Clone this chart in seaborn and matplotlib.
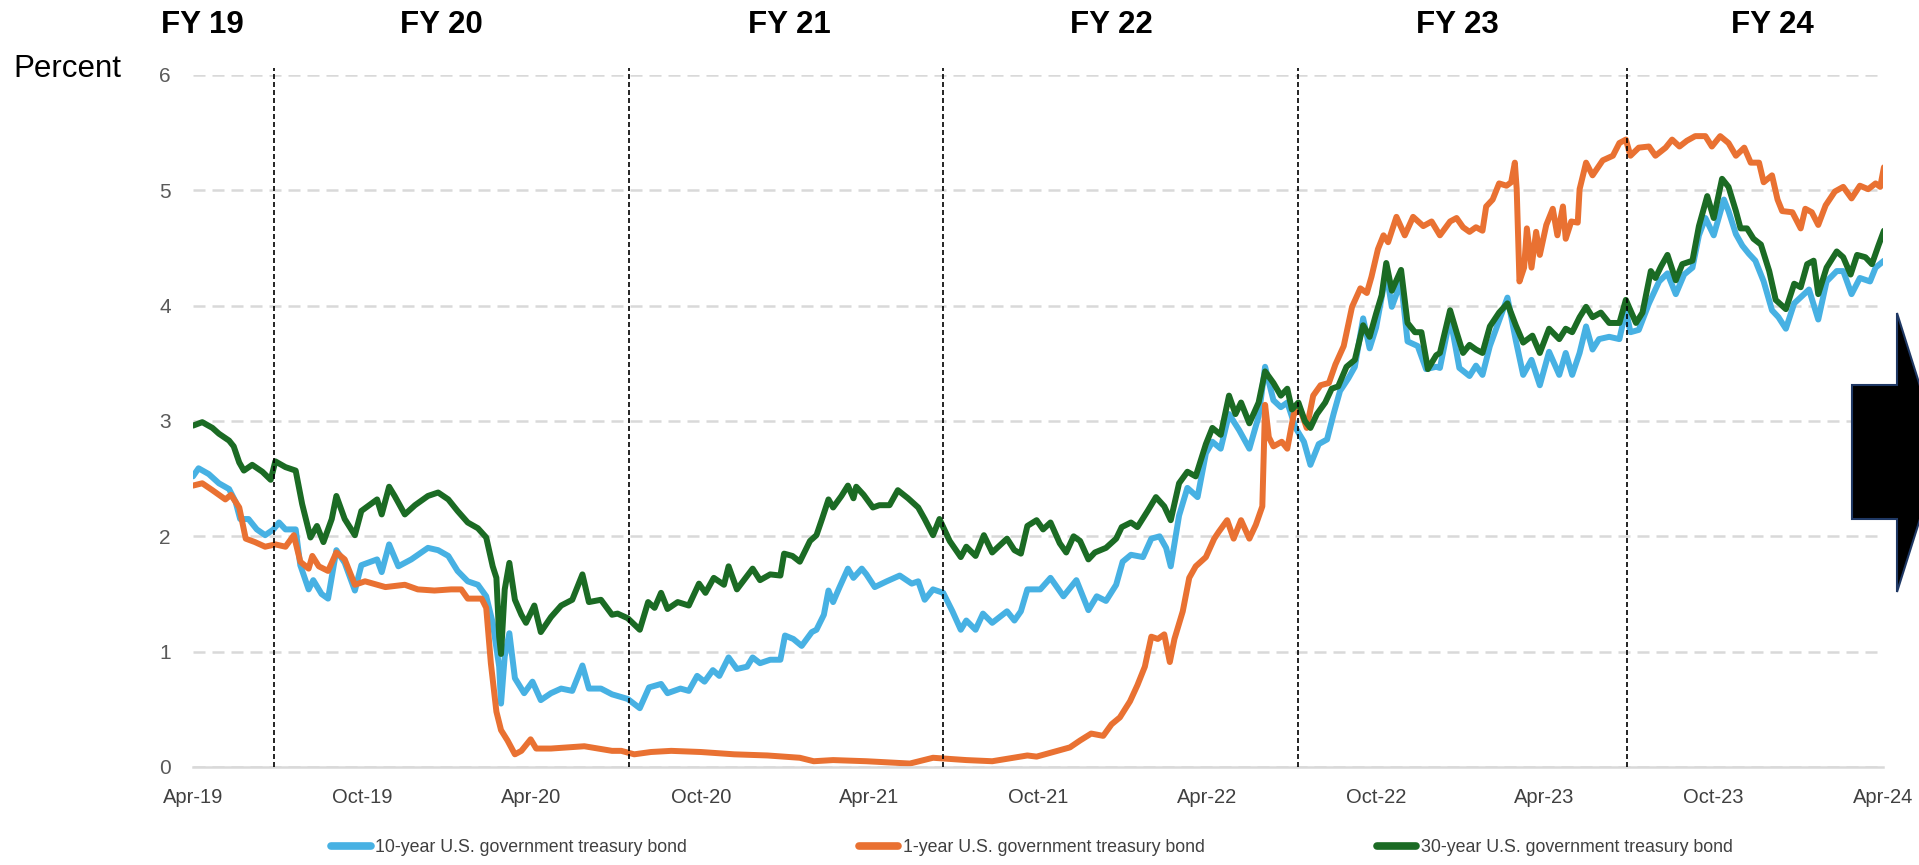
import pandas as pd
import matplotlib.pyplot as plt
import matplotlib.dates as mdates
from matplotlib.patches import Polygon
from matplotlib.lines import Line2D
import seaborn as sns

sns.set_style('white')
plt.rcParams['font.family'] = ['Liberation Sans', 'DejaVu Sans']

START = pd.Timestamp('2019-04-01')
END = pd.Timestamp('2024-04-01')

# x values are days after 1 Apr 2019, y values are percent
days_10y = [0, 6, 17, 28, 39, 46, 51, 60, 69, 78, 87, 93, 100, 111, 116, 125, 130, 139, 146, 155,
            164, 175, 182, 199, 204, 212, 222, 236, 254, 265, 276, 286, 297, 308, 317, 324, 331, 333, 337, 342,
            348, 358, 367, 376, 387, 398, 410, 421, 428, 441, 453,
            470, 483, 493, 506, 513, 527, 536, 545, 553, 562, 569, 579, 588, 599, 605, 613, 624, 635, 640, 649,
            658, 669, 674, 682, 687, 692, 699, 708, 714, 723, 728, 737, 750, 764, 777, 784, 791, 800, 811, 821,
            830, 836, 846, 854, 864, 880, 888, 895, 902,
            916, 927, 941, 955, 968, 977, 987, 998, 1005, 1014, 1027, 1036, 1045, 1052, 1057, 1066, 1075, 1086, 1095, 1102,
            1111, 1120, 1131, 1142, 1152, 1159, 1168, 1176, 1183, 1192, 1201, 1208, 1217, 1226, 1233, 1240, 1249, 1256, 1265, 1272,
            1279, 1290, 1296, 1306, 1313, 1324, 1333, 1344,
            1348, 1359, 1369, 1380, 1387, 1394, 1402, 1412, 1421, 1430, 1438, 1447, 1456, 1466, 1477, 1484, 1491, 1499, 1506, 1513,
            1520, 1531, 1542, 1549, 1554, 1563, 1574, 1585, 1594, 1603, 1612, 1621, 1628, 1635, 1644, 1655, 1660, 1668, 1675, 1682,
            1689, 1698, 1707, 1714, 1722, 1731, 1739, 1747, 1757, 1766, 1777, 1784, 1793, 1802, 1813, 1819, 1828]
pct_10y = [2.52, 2.59, 2.54, 2.46, 2.41, 2.30, 2.15, 2.15, 2.06, 2.01, 2.06, 2.12, 2.06, 2.06, 1.75, 1.54, 1.62, 1.50, 1.46, 1.88,
           1.77, 1.53, 1.75, 1.80, 1.69, 1.93, 1.74, 1.80, 1.90, 1.88, 1.83, 1.70, 1.61, 1.58, 1.48, 1.25, 0.87, 0.55, 0.96, 1.16,
           0.77, 0.64, 0.74, 0.58, 0.64, 0.68, 0.66, 0.88, 0.68, 0.68, 0.63,
           0.59, 0.51, 0.69, 0.72, 0.64, 0.68, 0.66, 0.79, 0.74, 0.84, 0.79, 0.95, 0.85, 0.87, 0.95, 0.90, 0.93, 0.93, 1.14, 1.11,
           1.05, 1.17, 1.19, 1.32, 1.53, 1.43, 1.56, 1.72, 1.64, 1.72, 1.67, 1.56, 1.61, 1.66, 1.59, 1.61, 1.45, 1.54, 1.51, 1.35,
           1.19, 1.27, 1.19, 1.33, 1.25, 1.35, 1.27, 1.35, 1.54,
           1.54, 1.64, 1.48, 1.62, 1.36, 1.48, 1.44, 1.58, 1.78, 1.84, 1.82, 1.98, 2.00, 1.90, 1.74, 2.18, 2.42, 2.34, 2.72, 2.82,
           2.76, 3.06, 2.92, 2.76, 3.04, 3.47, 3.18, 3.12, 3.16, 2.94, 2.82, 2.62, 2.80, 2.84, 3.06, 3.26, 3.37, 3.47, 3.89, 3.63,
           3.81, 4.29, 3.99, 4.21, 3.69, 3.65, 3.45, 3.47,
           3.46, 3.90, 3.46, 3.39, 3.48, 3.40, 3.65, 3.87, 4.07, 3.70, 3.40, 3.53, 3.31, 3.60, 3.40, 3.59, 3.40, 3.59, 3.82, 3.62,
           3.71, 3.73, 3.71, 3.96, 3.77, 3.79, 4.02, 4.21, 4.28, 4.10, 4.27, 4.33, 4.61, 4.76, 4.61, 4.92, 4.82, 4.62, 4.52, 4.45,
           4.39, 4.21, 3.96, 3.90, 3.80, 4.02, 4.08, 4.14, 3.88, 4.21, 4.30, 4.30, 4.10, 4.24, 4.21, 4.33, 4.39]

days_1y = [0, 10, 21, 35, 41, 50, 57, 67, 78, 89, 100, 109, 116, 125, 129, 136, 146, 155, 164, 175,
           186, 208, 229, 243, 261, 279, 290, 297, 312, 317, 322, 328, 333, 340, 348, 355, 365, 371, 387, 423, 453,
           463, 477, 495, 517, 549, 585, 621, 656, 671, 692, 728, 775, 800, 836, 864, 902,
           912, 930, 948, 959, 971, 984, 993, 1002, 1013, 1021, 1029, 1036, 1043, 1050, 1056, 1061, 1070, 1077, 1084, 1095,
           1104, 1109, 1118, 1125, 1133, 1142, 1149, 1156, 1159, 1163, 1168, 1177, 1183, 1190, 1197, 1204, 1211, 1219, 1228, 1235,
           1244, 1253, 1262, 1269, 1274, 1281, 1287, 1292, 1301, 1310, 1319, 1330, 1339,
           1348, 1359, 1366, 1373, 1380, 1387, 1394, 1398, 1405, 1412, 1420, 1425, 1429, 1431, 1434, 1439, 1442, 1447, 1452, 1456,
           1463, 1470, 1475, 1481, 1484, 1490, 1497, 1499, 1506, 1513, 1524, 1535, 1542, 1549, 1554, 1563, 1574, 1581, 1592, 1599,
           1607, 1615, 1624, 1635, 1642, 1651, 1660, 1668, 1677, 1684, 1693, 1698, 1707, 1713, 1718, 1729, 1738, 1743, 1750, 1757,
           1765, 1775, 1784, 1793, 1802, 1811, 1819, 1824, 1828]
pct_1y = [2.44, 2.46, 2.40, 2.32, 2.36, 2.25, 1.98, 1.95, 1.91, 1.93, 1.91, 2.01, 1.78, 1.72, 1.83, 1.74, 1.70, 1.86, 1.80, 1.58,
          1.61, 1.56, 1.58, 1.54, 1.53, 1.54, 1.54, 1.46, 1.46, 1.38, 0.90, 0.48, 0.32, 0.23, 0.11, 0.14, 0.24, 0.16, 0.16, 0.18, 0.14,
          0.14, 0.11, 0.13, 0.14, 0.13, 0.11, 0.10, 0.08, 0.05, 0.06, 0.05, 0.03, 0.08, 0.06, 0.05, 0.10,
          0.09, 0.13, 0.17, 0.23, 0.29, 0.27, 0.37, 0.43, 0.57, 0.71, 0.87, 1.13, 1.11, 1.15, 0.91, 1.11, 1.35, 1.64, 1.74, 1.82,
          1.98, 2.04, 2.14, 1.98, 2.14, 1.98, 2.10, 2.26, 3.14, 2.86, 2.78, 2.82, 2.76, 3.06, 3.10, 2.94, 3.22, 3.31, 3.33, 3.49,
          3.65, 3.99, 4.15, 4.11, 4.25, 4.49, 4.61, 4.55, 4.77, 4.61, 4.77, 4.69, 4.73,
          4.61, 4.73, 4.76, 4.68, 4.64, 4.68, 4.65, 4.86, 4.92, 5.06, 5.04, 5.07, 5.24, 5.01, 4.21, 4.33, 4.67, 4.33, 4.64, 4.44,
          4.70, 4.84, 4.61, 4.86, 4.58, 4.73, 4.72, 5.01, 5.24, 5.13, 5.26, 5.30, 5.41, 5.44, 5.30, 5.37, 5.38, 5.30, 5.37, 5.44,
          5.38, 5.43, 5.47, 5.47, 5.38, 5.47, 5.41, 5.30, 5.37, 5.24, 5.24, 5.07, 5.13, 4.92, 4.82, 4.81, 4.67, 4.84, 4.81, 4.70,
          4.87, 4.99, 5.03, 4.93, 5.04, 5.01, 5.06, 5.03, 5.20]

days_30y = [0, 10, 21, 28, 39, 44, 50, 55, 64, 75, 84, 89, 100, 111, 118, 127, 134, 141, 150, 155,
            164, 175, 182, 199, 204, 212, 218, 229, 240, 254, 265, 276, 286, 297, 308, 317, 324, 328, 331, 333,
            337, 342, 348, 355, 360, 369, 376, 387, 398, 410, 421, 428, 441, 453,
            459, 470, 483, 492, 499, 506, 513, 524, 536, 547, 554, 563, 574, 579, 588, 605, 613, 624, 635, 639,
            648, 656, 667, 674, 680, 687, 692, 701, 708, 714, 717, 725, 735, 742, 753, 762, 773, 784, 791, 800,
            807, 818, 830, 836, 846, 855, 864, 880, 888, 895, 902,
            912, 919, 927, 937, 944, 952, 959, 968, 975, 987, 998, 1004, 1014, 1021, 1032, 1041, 1050, 1057, 1066, 1075,
            1084, 1095, 1102, 1111, 1120, 1127, 1133, 1142, 1152, 1159, 1168, 1176, 1183, 1188, 1195, 1202, 1208, 1215, 1224, 1231,
            1238, 1247, 1256, 1265, 1272, 1279, 1285, 1290, 1296, 1306, 1313, 1321, 1328, 1335, 1344,
            1348, 1359, 1366, 1373, 1380, 1387, 1394, 1402, 1412, 1421, 1430, 1438, 1448, 1456, 1466, 1477, 1484, 1491, 1499, 1506,
            1513, 1522, 1531, 1542, 1549, 1560, 1567, 1576, 1581, 1587, 1594, 1603, 1610, 1621, 1628, 1637, 1644, 1653, 1660, 1668,
            1673, 1680, 1687, 1695, 1704, 1711, 1722, 1731, 1738, 1745, 1752, 1757, 1766, 1777, 1784, 1792, 1799, 1808, 1815, 1822,
            1828]
pct_30y = [2.96, 2.99, 2.94, 2.89, 2.83, 2.78, 2.64, 2.57, 2.62, 2.56, 2.49, 2.65, 2.60, 2.57, 2.28, 1.99, 2.09, 1.95, 2.15, 2.35,
           2.15, 2.01, 2.22, 2.32, 2.19, 2.43, 2.35, 2.19, 2.27, 2.35, 2.38, 2.32, 2.22, 2.12, 2.07, 1.99, 1.74, 1.64, 1.13, 0.98,
           1.54, 1.77, 1.45, 1.32, 1.25, 1.40, 1.17, 1.30, 1.40, 1.45, 1.67, 1.43, 1.45, 1.32,
           1.33, 1.29, 1.19, 1.43, 1.38, 1.51, 1.37, 1.43, 1.40, 1.59, 1.51, 1.64, 1.58, 1.74, 1.54, 1.72, 1.62, 1.67, 1.66, 1.85,
           1.83, 1.78, 1.96, 2.01, 2.15, 2.32, 2.25, 2.35, 2.44, 2.33, 2.43, 2.36, 2.25, 2.27, 2.27, 2.40, 2.33, 2.25, 2.15, 2.01,
           2.15, 1.96, 1.82, 1.91, 1.83, 2.01, 1.86, 1.98, 1.88, 1.85, 2.09,
           2.14, 2.06, 2.12, 1.94, 1.86, 2.00, 1.96, 1.80, 1.86, 1.90, 1.98, 2.08, 2.12, 2.08, 2.22, 2.34, 2.26, 2.14, 2.46, 2.56,
           2.52, 2.80, 2.94, 2.88, 3.22, 3.06, 3.16, 2.98, 3.16, 3.43, 3.33, 3.22, 3.28, 3.10, 3.16, 3.00, 2.94, 3.06, 3.16, 3.28,
           3.30, 3.47, 3.53, 3.83, 3.73, 3.93, 4.09, 4.37, 4.13, 4.31, 3.85, 3.77, 3.77, 3.45, 3.57,
           3.59, 3.96, 3.77, 3.59, 3.66, 3.62, 3.59, 3.82, 3.94, 4.02, 3.83, 3.68, 3.74, 3.59, 3.80, 3.71, 3.80, 3.77, 3.90, 3.99,
           3.90, 3.94, 3.85, 3.85, 4.05, 3.85, 3.94, 4.30, 4.24, 4.34, 4.44, 4.22, 4.36, 4.39, 4.69, 4.95, 4.76, 5.10, 5.03, 4.82,
           4.67, 4.67, 4.58, 4.53, 4.30, 4.05, 3.97, 4.19, 4.16, 4.36, 4.39, 4.10, 4.33, 4.47, 4.42, 4.27, 4.44, 4.42, 4.36, 4.52,
           4.65]

series_names = ['10-year U.S. government treasury bond',
                '1-year U.S. government treasury bond',
                '30-year U.S. government treasury bond']
series_colors = ['#47B1E3', '#E97132', '#1B6B24']

fy_labels = ['FY 19', 'FY 20', 'FY 21', 'FY 22', 'FY 23', 'FY 24']
fy_label_days = [10, 269, 645, 993, 1367, 1707]
fy_break_days = [88, 471, 811, 1195, 1550]

frames = []
for name, d, v in zip(series_names, [days_10y, days_1y, days_30y], [pct_10y, pct_1y, pct_30y]):
    frames.append(pd.DataFrame({'date': START + pd.to_timedelta(d, unit='D'),
                                'pct': v, 'series': name}))
df = pd.concat(frames, ignore_index=True)

W, H = 1919, 865
fig = plt.figure(figsize=(W / 100, H / 100), dpi=100)
ax = fig.add_axes([193 / W, 1 - 767 / H, 1690 / W, 692 / H])

sns.lineplot(data=df, x='date', y='pct', hue='series', hue_order=series_names,
             palette=series_colors, estimator=None, sort=False, linewidth=4.3,
             solid_joinstyle='round', solid_capstyle='round', legend=False, ax=ax, zorder=2)

ax.set_xlim(START, END)
ax.set_ylim(0, 6)
ax.set_yticks(range(7))
ax.set_xlabel('')
ax.set_ylabel('')
ax.yaxis.grid(True, color='#D9D9D9', linestyle=(0, (4.8, 2.8)), linewidth=1.8, zorder=0)
ax.xaxis.grid(False)
for s in ['left', 'right', 'top']:
    ax.spines[s].set_visible(False)
ax.spines['bottom'].set_color('#D9D9D9')
ax.spines['bottom'].set_linewidth(1.8)

ax.xaxis.set_major_locator(mdates.MonthLocator(bymonth=[4, 10]))
ax.xaxis.set_major_formatter(mdates.DateFormatter('%b-%y'))
ax.tick_params(axis='y', length=0, pad=16, labelsize=15, labelcolor='#595959')
ax.tick_params(axis='x', length=7, width=1.8, color='#D9D9D9', direction='out', pad=8,
               labelsize=14.5, labelcolor='#404040')

# fiscal year breaks
for d in fy_break_days:
    ax.axvline(START + pd.Timedelta(days=d), ymin=0, ymax=1.01, color='black',
               linestyle=(0, (3, 1.8)), linewidth=1.2, clip_on=False, zorder=3)

for lab, d in zip(fy_labels, fy_label_days):
    ax.text(START + pd.Timedelta(days=d), 1.072, lab, transform=ax.get_xaxis_transform(),
            ha='center', va='center', fontsize=22.5, fontweight='bold', color='black')

fig.text(13 / W, 1 - 69 / H, 'Percent', ha='left', va='center', fontsize=22.5, color='black')

handles = [Line2D([], [], color=c, linewidth=5.5, solid_capstyle='round') for c in series_colors]
fig.legend(handles, series_names, loc='center', bbox_to_anchor=(1032 / W, 1 - 848 / H), ncol=3,
           frameon=False, handlelength=2.2, handletextpad=0.25, columnspacing=9.7,
           prop={'size': 12.8}, labelcolor='#404040')

# block arrow on the right edge
arrow_px = [(1852, 385), (1897, 385), (1897, 313), (1941, 452.5), (1897, 592), (1897, 519), (1852, 519)]
arrow = Polygon([(x / W, 1 - y / H) for x, y in arrow_px], closed=True, transform=fig.transFigure,
                facecolor='black', edgecolor='#1F3864', linewidth=1.5, zorder=5)
fig.add_artist(arrow)

fig.savefig('out.png', dpi=100)
